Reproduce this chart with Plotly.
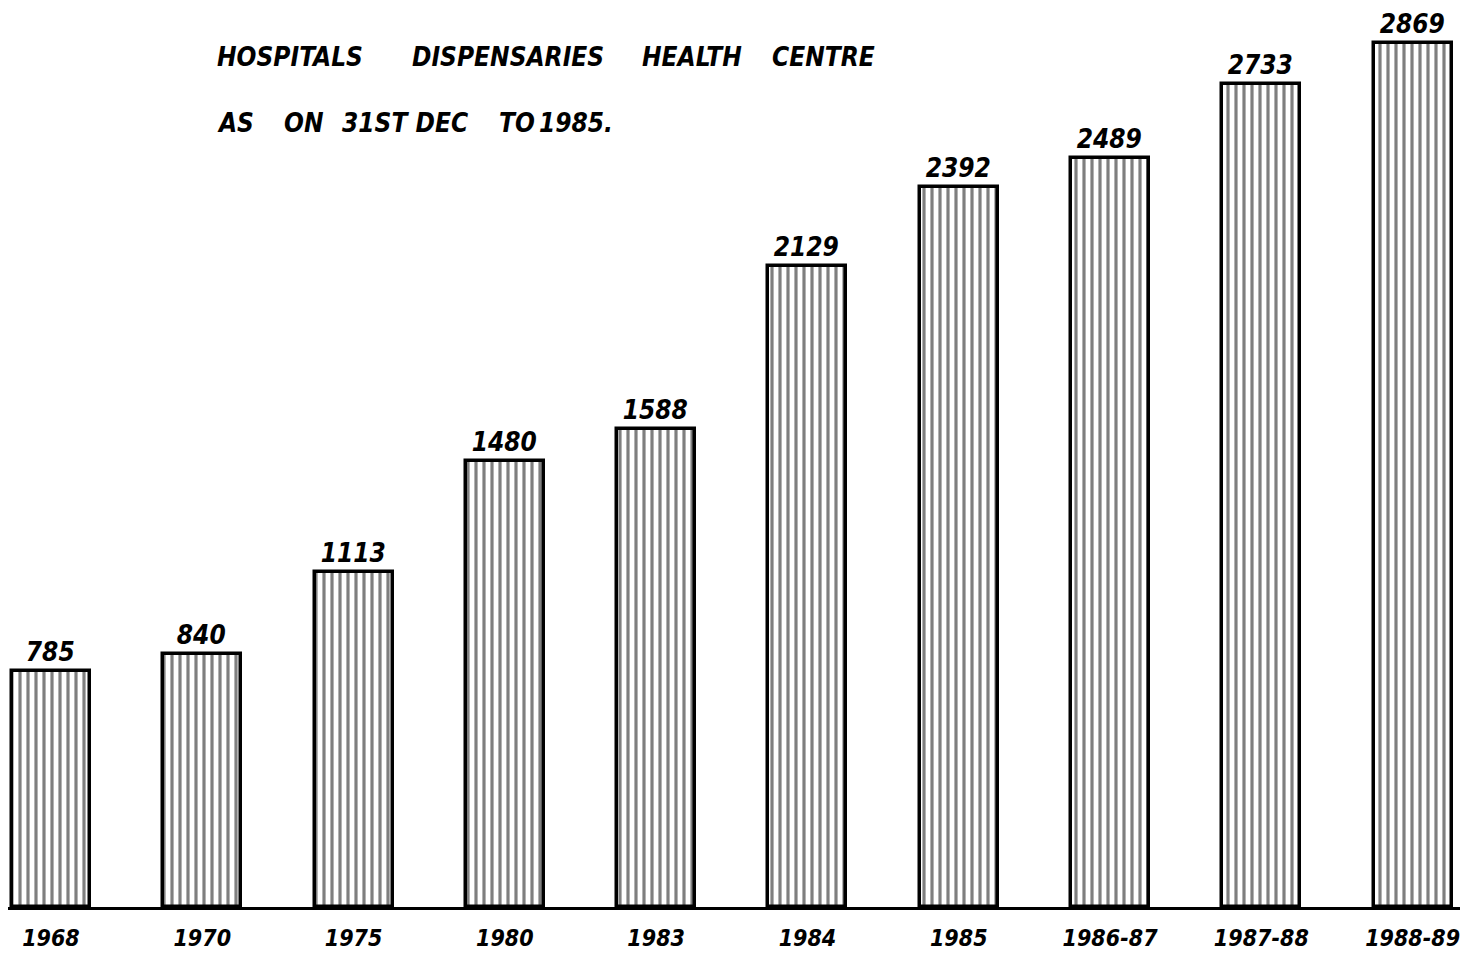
import plotly.graph_objects as go

categories = ["1968", "1970", "1975", "1980", "1983", "1984", "1985", "1986-87", "1987-88", "1988-89"]
values = [785, 840, 1113, 1480, 1588, 2129, 2392, 2489, 2733, 2869]
title_line1 = ["HOSPITALS", "DISPENSARIES", "HEALTH", "CENTRE"]
title_line2 = ["AS", "ON", "31ST DEC", "TO", "1985."]

FONT = "DejaVu Sans Condensed"
TXT = dict(family=FONT, size=26, color="black", style="italic", weight="bold")

fig = go.Figure()
fig.add_trace(go.Bar(
    x=categories,
    y=values,
    width=0.515,
    text=[str(v) for v in values],
    textposition="outside",
    cliponaxis=False,
    textfont=TXT,
    marker=dict(
        color="white",
        line=dict(color="black", width=3.5),
        pattern=dict(shape="|", fgcolor="black", bgcolor="white", size=8, solidity=0.4),
    ),
))

# figure is offset by the page's 8px body margin; positions are in figure pixels
W, H = 1460, 947
line1_x = [207, 402, 632, 762]
line2_x = [207, 274, 332, 489, 529]
for words, xs, yp in ((title_line1, line1_x, 49), (title_line2, line2_x, 115)):
    for w, xp in zip(words, xs):
        fig.add_annotation(
            text=w, xref="paper", yref="paper", x=xp / W, y=1 - yp / 899,
            xanchor="left", yanchor="middle", showarrow=False, font=TXT,
        )

fig.update_layout(
    width=W, height=H,
    margin=dict(l=0, r=0, t=0, b=48),
    paper_bgcolor="white", plot_bgcolor="white",
    showlegend=False,
    bargap=0,
    xaxis=dict(
        type="category", range=[-0.284, 9.366],
        showline=True, linecolor="black", linewidth=3,
        showgrid=False, zeroline=False,
        ticks="outside", ticklen=8, tickcolor="rgba(0,0,0,0)",
        tickfont=dict(family=FONT, size=23, color="black", style="italic", weight="bold"),
    ),
    yaxis=dict(range=[0, 2986], visible=False, showgrid=False, zeroline=False),
)

fig.write_html("out.html")
